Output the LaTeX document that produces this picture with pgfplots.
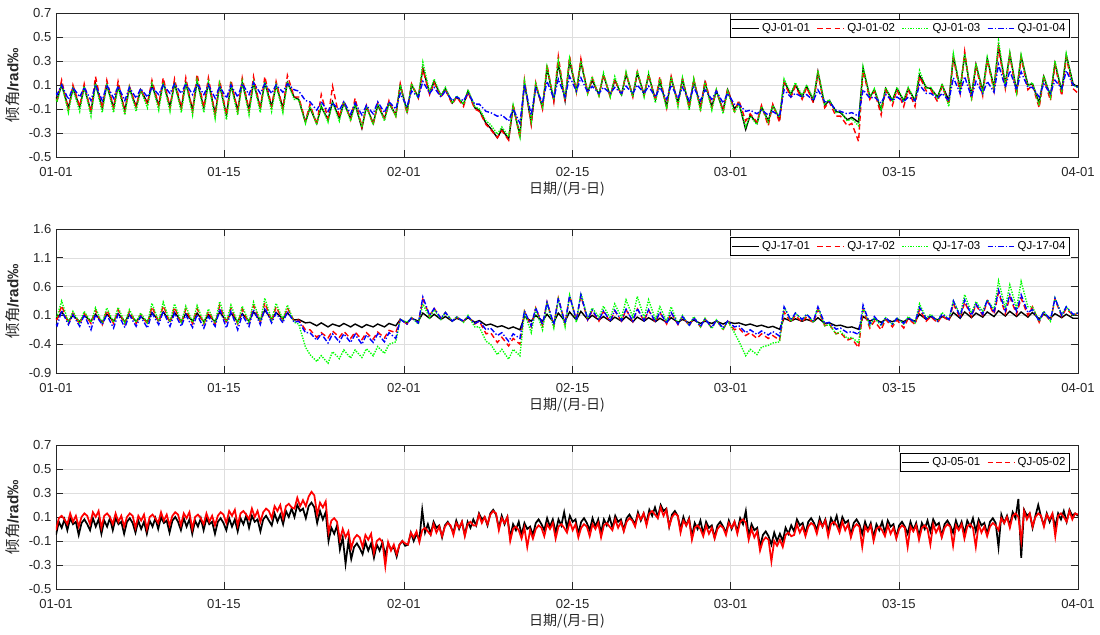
\documentclass[border=0pt]{standalone}
\usepackage{fontspec}
\setmainfont{Liberation Sans}
\newfontfamily\cjk{Noto Sans CJK SC}
\usepackage{pgfplots}
\usepackage{pgfplotstable}
\pgfplotsset{compat=1.18}
\definecolor{axgray}{gray}{0.15}
\definecolor{gridgray}{gray}{0.87}
\definecolor{mgreen}{rgb}{0,1,0}
\pgfplotsset{legend image code/.code={\draw[#1] (0pt,0pt) -- (20pt,0pt);}}
\pgfplotsset{
  myax/.style={
    width=766.5pt, height=108pt, scale only axis,
    axis line style={axgray, line width=0.5pt},
    tick style={axgray, line width=0.5pt},
    major tick length=5pt,
    tick align=inside,
    tick pos=both,
    grid=major,
    major grid style={gridgray, line width=0.4pt},
    tick label style={font=\fontsize{9.8}{11}\selectfont, text=axgray},
    xticklabel style={yshift=-4pt},
    xlabel={\cjk 日期/(月-日)},
    xlabel style={font=\fontsize{10.5}{12}\selectfont, text=axgray, yshift=3pt},
    ylabel={{\cjk 倾角}\textbf{/rad‰}},
    ylabel style={font=\fontsize{11.5}{13}\selectfont, text=axgray},
    legend style={anchor=north east, draw=black, line width=0.5pt, fill=white,
      font=\fontsize{8.6}{10}\selectfont, inner sep=1pt,
      /tikz/every even column/.append style={column sep=3pt}},
    legend cell align=left,
    every axis plot/.append style={line width=1.05pt},
    xticklabels={01-01,01-15,02-01,02-15,03-01,03-15,04-01},
  },
  dayax/.style={xmin=-0.1, xmax=90.44, xtick={-0.1,14.78,30.72,45.67,59.67,74.58,90.44}},
  sA/.style={black},
  sB/.style={red, dash pattern=on 4pt off 2.5pt},
  sC/.style={mgreen, dash pattern=on 1pt off 1pt},
  sD/.style={blue, dash pattern=on 4pt off 1.5pt on 1pt off 1.5pt},
}

\pgfplotstableread{
x a b c d
-0.1 0.00 -0.02 -0.02 0.03
0 -0.02 -0.03 -0.04 0.02
0.4 0.10 0.14 0.11 0.10
1 -0.09 -0.11 -0.13 -0.02
1.4 0.07 0.10 0.07 0.08
2 -0.08 -0.08 -0.12 0.00
2.4 0.08 0.11 0.09 0.08
3 -0.12 -0.13 -0.16 -0.03
3.4 0.11 0.17 0.11 0.10
4 -0.09 -0.10 -0.13 -0.03
4.4 0.10 0.14 0.11 0.10
5 -0.09 -0.09 -0.13 -0.01
5.4 0.09 0.13 0.09 0.09
6 -0.11 -0.12 -0.15 -0.03
6.4 0.07 0.09 0.08 0.08
7 -0.08 -0.08 -0.12 -0.01
7.4 0.06 0.07 0.06 0.07
8 -0.05 -0.06 -0.09 0.00
8.4 0.10 0.14 0.11 0.08
9 -0.07 -0.07 -0.11 0.02
9.4 0.12 0.16 0.12 0.10
10 -0.08 -0.09 -0.12 0.03
10.4 0.11 0.15 0.12 0.11
11 -0.09 -0.09 -0.13 0.03
11.4 0.12 0.16 0.12 0.11
12 -0.11 -0.12 -0.15 0.02
12.4 0.13 0.19 0.14 0.11
13 -0.09 -0.09 -0.13 0.02
13.4 0.12 0.16 0.12 0.10
14 -0.14 -0.15 -0.18 -0.01
14.4 0.10 0.14 0.11 0.09
15 -0.15 -0.15 -0.19 -0.01
15.4 0.10 0.14 0.10 0.10
16 -0.11 -0.12 -0.15 0.00
16.4 0.12 0.16 0.13 0.11
17 -0.11 -0.11 -0.15 0.02
17.4 0.12 0.17 0.12 0.12
18 -0.09 -0.10 -0.13 0.03
18.4 0.12 0.17 0.13 0.11
19 -0.08 -0.08 -0.12 0.03
19.4 0.10 0.13 0.10 0.10
20 -0.09 -0.10 -0.13 0.04
20.4 0.12 0.18 0.13 0.11
21 0.00 0.00 -0.02 0.06
21.4 -0.02 0.00 -0.02 0.05
22 -0.21 -0.20 -0.22 -0.03
22.4 -0.09 -0.06 -0.08 -0.04
23 -0.22 -0.23 -0.23 -0.11
23.4 -0.08 0.02 -0.07 -0.04
24 -0.19 -0.18 -0.21 -0.12
24.4 -0.04 0.09 -0.04 -0.05
25 -0.18 -0.17 -0.20 -0.11
25.4 -0.05 -0.03 -0.04 -0.04
26 -0.18 -0.19 -0.20 -0.14
26.4 -0.06 -0.01 -0.06 -0.05
27 -0.26 -0.25 -0.25 -0.15
27.4 -0.08 -0.07 -0.08 -0.07
28 -0.22 -0.23 -0.23 -0.14
28.4 -0.07 -0.05 -0.06 -0.04
29 -0.18 -0.18 -0.20 -0.13
29.4 -0.05 -0.03 -0.05 -0.04
30 -0.15 -0.16 -0.16 -0.10
30.4 0.10 0.11 0.10 0.03
31 -0.12 -0.14 -0.13 -0.08
31.4 0.10 0.11 0.11 0.05
32 0.00 -0.01 -0.01 0.00
32.4 0.24 0.23 0.29 0.13
33 0.03 0.02 0.04 0.03
33.4 0.13 0.12 0.15 0.08
34 0.01 0.00 0.01 0.00
34.4 0.07 0.06 0.08 0.05
35 -0.05 -0.06 -0.05 -0.03
35.4 0.00 0.00 0.01 0.00
36 -0.06 -0.08 -0.06 -0.03
36.4 0.05 0.04 0.06 0.03
37 -0.09 -0.10 -0.08 -0.06
37.4 -0.11 -0.12 -0.10 -0.06
38 -0.22 -0.23 -0.20 -0.12
38.4 -0.26 -0.27 -0.23 -0.13
39 -0.34 -0.34 -0.31 -0.16
39.4 -0.27 -0.28 -0.25 -0.15
40 -0.35 -0.36 -0.33 -0.20
40.4 -0.08 -0.06 -0.07 -0.10
41 -0.32 -0.34 -0.33 -0.22
41.4 0.12 0.14 0.13 0.10
42 -0.22 -0.23 -0.20 -0.15
42.4 0.10 0.12 0.11 0.07
43 -0.09 -0.10 -0.08 -0.05
43.4 0.24 0.27 0.25 0.13
44 -0.03 -0.04 -0.02 -0.01
44.4 0.28 0.34 0.30 0.15
45 -0.03 -0.04 -0.02 0.00
45.4 0.30 0.34 0.32 0.17
46 0.05 0.04 0.05 0.05
46.4 0.29 0.32 0.30 0.16
47 0.04 0.03 0.03 0.04
47.4 0.14 0.16 0.17 0.09
48 0.02 0.01 0.01 0.03
48.4 0.18 0.19 0.20 0.08
49 0.01 0.00 0.00 0.03
49.4 0.14 0.15 0.17 0.08
50 0.02 0.01 0.01 0.03
50.4 0.19 0.20 0.21 0.09
51 0.01 0.00 0.00 0.03
51.4 0.20 0.21 0.22 0.10
52 0.02 0.01 0.00 0.03
52.4 0.18 0.19 0.20 0.09
53 -0.02 -0.03 -0.05 0.00
53.4 0.13 0.17 0.15 0.08
54 -0.08 -0.09 -0.10 -0.02
54.4 0.16 0.17 0.17 0.10
55 -0.05 -0.06 -0.08 -0.01
55.4 0.15 0.15 0.16 0.08
56 -0.08 -0.09 -0.11 -0.03
56.4 0.14 0.15 0.15 0.08
57 -0.09 -0.10 -0.12 -0.03
57.4 0.12 0.14 0.12 0.06
58 -0.08 -0.09 -0.11 -0.02
58.4 0.05 0.06 0.06 0.05
59 -0.11 -0.12 -0.14 -0.05
59.4 0.06 0.07 0.05 0.03
60 -0.10 -0.12 -0.13 -0.06
60.4 -0.05 -0.03 -0.06 -0.06
61 -0.27 -0.20 -0.25 -0.12
61.4 -0.15 -0.14 -0.16 -0.11
62 -0.22 -0.21 -0.23 -0.14
62.4 -0.08 -0.07 -0.08 -0.11
63 -0.20 -0.24 -0.21 -0.15
63.4 -0.07 -0.06 -0.07 -0.12
64 -0.18 -0.21 -0.17 -0.16
64.4 0.13 0.12 0.15 0.06
65 0.02 0.00 0.03 0.00
65.4 0.10 0.09 0.12 0.03
66 0.00 -0.02 0.01 0.00
66.4 0.09 0.08 0.10 0.02
67 -0.03 -0.05 -0.02 -0.03
67.4 0.21 0.20 0.22 0.06
68 -0.07 -0.09 -0.06 -0.04
68.4 -0.03 -0.04 -0.02 -0.04
69 -0.12 -0.16 -0.13 -0.11
69.4 -0.13 -0.16 -0.12 -0.12
70 -0.19 -0.24 -0.20 -0.14
70.4 -0.17 -0.22 -0.18 -0.13
71 -0.21 -0.37 -0.24 -0.16
71.4 0.24 0.22 0.25 0.06
72 0.00 -0.02 0.00 -0.01
72.4 0.06 0.05 0.07 0.00
73 -0.11 -0.15 -0.10 -0.05
73.4 0.07 0.06 0.08 0.02
74 -0.03 -0.07 -0.03 -0.03
74.4 0.07 0.06 0.08 0.00
75 -0.03 -0.08 -0.03 -0.04
75.4 0.07 0.06 0.08 0.00
76 -0.03 -0.08 -0.03 -0.03
76.4 0.18 0.17 0.22 0.10
77 0.08 0.05 0.07 0.03
77.4 0.07 0.06 0.08 0.03
78 0.00 -0.04 -0.01 -0.01
78.4 0.10 0.09 0.11 0.03
79 -0.03 -0.06 -0.08 -0.03
79.4 0.34 0.33 0.36 0.16
80 0.07 0.03 0.06 0.03
80.4 0.35 0.38 0.36 0.17
81 0.01 -0.03 0.00 0.00
81.4 0.27 0.26 0.28 0.13
82 0.05 0.01 0.04 0.03
82.4 0.32 0.31 0.33 0.13
83 0.08 0.05 0.07 0.04
83.4 0.42 0.41 0.47 0.27
84 0.11 0.07 0.10 0.08
84.4 0.36 0.35 0.37 0.22
85 0.05 0.01 0.04 0.06
85.4 0.34 0.33 0.35 0.21
86 0.10 0.06 0.09 0.08
86.4 0.11 0.10 0.12 0.08
87 -0.05 -0.09 -0.07 0.00
87.4 0.17 0.16 0.18 0.11
88 0.01 -0.03 0.00 0.03
88.4 0.28 0.27 0.30 0.14
89 0.05 0.01 0.04 0.07
89.4 0.35 0.33 0.36 0.22
90 0.11 0.07 0.10 0.10
90.44 0.08 0.03 0.08 0.08
}\tabA

\pgfplotstableread{
x a b c d
-0.1 0.05 0.03 0.08 -0.05
0 0.05 0.03 0.08 -0.08
0.4 0.16 0.27 0.35 0.18
1 0.00 -0.04 -0.02 -0.06
1.4 0.10 0.14 0.17 0.11
2 -0.01 -0.05 -0.03 -0.09
2.4 0.10 0.14 0.17 0.11
3 0.00 -0.04 -0.02 -0.15
3.4 0.12 0.19 0.23 0.11
4 -0.02 -0.06 -0.04 -0.06
4.4 0.12 0.19 0.23 0.11
5 0.00 -0.04 -0.02 -0.12
5.4 0.13 0.20 0.24 0.12
6 -0.01 -0.05 -0.03 -0.11
6.4 0.11 0.17 0.20 0.11
7 0.00 -0.04 -0.02 -0.09
7.4 0.08 0.12 0.14 0.08
8 -0.01 -0.05 -0.03 -0.12
8.4 0.15 0.25 0.31 0.14
9 0.01 -0.02 0.00 -0.06
9.4 0.16 0.27 0.33 0.17
10 0.00 -0.03 -0.01 -0.09
10.4 0.15 0.24 0.30 0.14
11 0.00 -0.04 -0.02 -0.09
11.4 0.13 0.21 0.26 0.11
12 0.00 -0.04 -0.02 -0.11
12.4 0.14 0.22 0.27 0.11
13 -0.01 -0.05 -0.03 -0.12
13.4 0.11 0.17 0.21 0.08
14 -0.01 -0.05 -0.03 -0.09
14.4 0.16 0.27 0.34 0.21
15 0.00 -0.03 -0.01 -0.12
15.4 0.14 0.23 0.28 0.17
16 -0.01 -0.05 -0.03 -0.15
16.4 0.13 0.21 0.26 0.11
17 0.00 -0.04 -0.02 -0.09
17.4 0.16 0.27 0.33 0.20
18 0.01 -0.02 0.00 -0.06
18.4 0.19 0.32 0.40 0.23
19 0.03 0.00 0.02 -0.03
19.4 0.15 0.25 0.31 0.14
20 0.04 0.01 0.03 -0.03
20.4 0.14 0.23 0.28 0.17
21 0.02 0.00 -0.02 -0.02
21.4 0.03 0.02 -0.05 0.00
22 -0.03 -0.15 -0.45 -0.20
22.4 -0.02 -0.15 -0.58 -0.20
23 -0.08 -0.28 -0.70 -0.33
23.4 -0.03 -0.20 -0.60 -0.22
24 -0.10 -0.29 -0.73 -0.38
24.4 -0.05 -0.17 -0.53 -0.22
25 -0.09 -0.28 -0.65 -0.36
25.4 -0.04 -0.18 -0.50 -0.22
26 -0.10 -0.30 -0.64 -0.37
26.4 -0.05 -0.19 -0.50 -0.23
27 -0.11 -0.32 -0.63 -0.40
27.4 -0.06 -0.20 -0.48 -0.24
28 -0.10 -0.31 -0.60 -0.37
28.4 -0.05 -0.19 -0.44 -0.22
29 -0.10 -0.29 -0.56 -0.36
29.4 -0.04 -0.16 -0.40 -0.20
30 -0.08 -0.20 -0.36 -0.30
30.4 0.03 0.03 0.03 0.03
31 -0.03 -0.05 -0.02 -0.05
31.4 0.05 0.06 0.06 0.06
32 0.00 -0.03 -0.05 -0.03
32.4 0.14 0.38 0.30 0.42
33 0.05 0.10 0.06 0.10
33.4 0.12 0.22 0.20 0.22
34 0.03 0.05 0.03 0.05
34.4 0.08 0.15 0.15 0.15
35 0.00 0.00 0.00 0.00
35.4 0.05 0.07 0.08 0.07
36 0.00 0.00 -0.02 0.00
36.4 0.06 0.08 0.10 0.08
37 -0.02 -0.05 -0.10 -0.04
37.4 0.01 0.00 -0.10 0.00
38 -0.07 -0.22 -0.35 -0.15
38.4 -0.05 -0.20 -0.40 -0.12
39 -0.10 -0.37 -0.58 -0.25
39.4 -0.08 -0.28 -0.49 -0.20
40 -0.13 -0.43 -0.66 -0.35
40.4 -0.10 -0.30 -0.49 -0.22
41 -0.15 -0.40 -0.60 -0.30
41.4 0.08 0.17 0.15 0.18
42 0.00 -0.10 -0.20 -0.08
42.4 0.10 0.23 0.20 0.23
43 0.00 -0.08 -0.15 -0.06
43.4 0.12 0.33 0.30 0.33
44 -0.02 -0.08 -0.12 -0.06
44.4 0.14 0.40 0.38 0.40
45 0.00 -0.05 -0.10 -0.04
45.4 0.16 0.44 0.45 0.44
46 0.02 0.02 -0.02 0.02
46.4 0.17 0.44 0.49 0.46
47 0.03 0.02 0.05 0.03
47.4 0.10 0.18 0.23 0.19
48 0.02 0.00 0.07 0.02
48.4 0.08 0.17 0.26 0.18
49 0.00 -0.01 0.05 0.00
49.4 0.07 0.18 0.30 0.19
50 0.00 0.00 0.06 0.01
50.4 0.08 0.20 0.37 0.21
51 -0.01 -0.01 0.07 0.00
51.4 0.07 0.21 0.43 0.22
52 0.00 0.00 0.06 0.01
52.4 0.06 0.19 0.37 0.20
53 -0.01 -0.02 0.03 -0.01
53.4 0.05 0.15 0.25 0.16
54 -0.02 -0.05 0.00 -0.04
54.4 0.06 0.15 0.25 0.15
55 -0.02 -0.06 -0.05 -0.05
55.4 0.03 0.08 0.10 0.08
56 -0.03 -0.08 -0.08 -0.07
56.4 0.02 0.06 0.08 0.06
57 -0.04 -0.10 -0.10 -0.09
57.4 0.00 0.04 0.05 0.04
58 -0.04 -0.12 -0.13 -0.11
58.4 0.00 0.02 0.02 0.02
59 -0.05 -0.14 -0.15 -0.12
59.4 -0.01 0.00 0.00 0.00
60 -0.04 -0.15 -0.20 -0.10
60.4 -0.03 -0.12 -0.35 -0.08
61 -0.07 -0.25 -0.60 -0.20
61.4 -0.05 -0.20 -0.49 -0.15
62 -0.09 -0.30 -0.58 -0.23
62.4 -0.07 -0.22 -0.45 -0.17
63 -0.11 -0.30 -0.42 -0.24
63.4 -0.09 -0.25 -0.38 -0.18
64 -0.14 -0.33 -0.36 -0.26
64.4 0.05 0.16 0.25 0.25
65 0.00 -0.02 0.00 0.02
65.4 0.04 0.10 0.14 0.14
66 0.00 -0.02 0.02 0.03
66.4 0.03 0.08 0.12 0.12
67 -0.01 -0.03 -0.02 0.00
67.4 0.06 0.20 0.25 0.25
68 -0.04 -0.08 -0.08 -0.04
68.4 -0.03 -0.05 -0.06 -0.02
69 -0.08 -0.22 -0.22 -0.14
69.4 -0.07 -0.20 -0.18 -0.12
70 -0.11 -0.33 -0.30 -0.20
70.4 -0.10 -0.30 -0.28 -0.18
71 -0.14 -0.46 -0.38 -0.23
71.4 0.08 0.20 0.25 0.28
72 0.00 -0.12 -0.08 -0.05
72.4 0.04 0.00 0.06 0.08
73 -0.02 -0.15 -0.08 -0.06
73.4 0.03 0.03 0.06 0.06
74 -0.01 -0.10 -0.06 -0.05
74.4 0.03 0.02 0.06 0.05
75 -0.01 -0.12 -0.05 -0.04
75.4 0.04 0.05 0.08 0.06
76 0.00 -0.06 -0.03 -0.02
76.4 0.12 0.20 0.30 0.24
77 0.03 0.00 0.05 0.04
77.4 0.08 0.08 0.12 0.10
78 0.02 -0.03 0.00 0.00
78.4 0.08 0.10 0.15 0.12
79 0.03 0.00 0.02 0.03
79.4 0.15 0.30 0.35 0.35
80 0.05 0.05 0.11 0.08
80.4 0.16 0.33 0.46 0.37
81 0.06 0.08 0.14 0.10
81.4 0.14 0.28 0.34 0.30
82 0.07 0.10 0.17 0.12
82.4 0.16 0.35 0.37 0.37
83 0.08 0.12 0.20 0.15
83.4 0.18 0.50 0.70 0.54
84 0.09 0.13 0.23 0.18
84.4 0.17 0.42 0.63 0.46
85 0.08 0.12 0.23 0.17
85.4 0.16 0.40 0.69 0.46
86 0.07 0.10 0.25 0.15
86.4 0.15 0.25 0.25 0.20
87 0.04 -0.02 0.00 0.00
87.4 0.12 0.15 0.17 0.17
88 0.05 0.00 0.00 0.02
88.4 0.13 0.38 0.40 0.40
89 0.06 0.08 0.11 0.10
89.4 0.12 0.22 0.25 0.25
90 0.05 0.10 0.10 0.12
90.44 0.05 0.14 0.15 0.14
}\tabB

\pgfplotstableread{
x a b
0 -0.05 -0.01
0.25 0.06 0.09
0.5 0.01 0.11
0.75 0.08 0.08
1 -0.01 0.04
1.25 0.09 0.13
1.5 0.04 0.06
1.75 0.06 0.11
2 -0.05 0.02
2.25 0.05 0.10
2.5 0.08 0.13
2.75 0.04 0.11
3 -0.01 0.04
3.25 0.09 0.14
3.5 0.02 0.10
3.75 0.08 0.15
4 -0.04 0.01
4.25 0.07 0.11
4.5 0.02 0.13
4.75 0.09 0.10
5 -0.01 0.04
5.25 0.09 0.13
5.5 0.04 0.06
5.75 0.06 0.11
6 -0.04 0.02
6.25 0.06 0.10
6.5 0.09 0.13
6.75 0.05 0.11
7 -0.03 0.01
7.25 0.07 0.11
7.5 0.00 0.07
7.75 0.06 0.12
8 -0.04 0.00
8.25 0.07 0.10
8.5 0.02 0.12
8.75 0.09 0.09
9 0.00 0.05
9.25 0.10 0.14
9.5 0.05 0.07
9.75 0.07 0.12
10 -0.03 0.03
10.25 0.07 0.11
10.5 0.10 0.14
10.75 0.06 0.12
11 -0.01 0.03
11.25 0.09 0.13
11.5 0.02 0.09
11.75 0.08 0.14
12 -0.04 0.00
12.25 0.07 0.10
12.5 0.02 0.12
12.75 0.09 0.09
13 -0.01 0.04
13.25 0.09 0.13
13.5 0.04 0.06
13.75 0.06 0.11
14 -0.04 0.03
14.25 0.06 0.11
14.5 0.09 0.14
14.75 0.05 0.12
15 -0.01 0.05
15.25 0.09 0.15
15.5 0.02 0.11
15.75 0.08 0.16
16 -0.02 0.03
16.25 0.09 0.13
16.5 0.04 0.15
16.75 0.11 0.12
17 0.01 0.08
17.25 0.11 0.17
17.5 0.06 0.10
17.75 0.08 0.15
18 -0.02 0.06
18.25 0.08 0.14
18.5 0.11 0.17
18.75 0.07 0.15
19 0.03 0.09
19.25 0.13 0.19
19.5 0.06 0.15
19.75 0.12 0.20
20 0.04 0.09
20.25 0.15 0.19
20.5 0.10 0.21
20.75 0.17 0.18
21 0.10 0.17
21.25 0.20 0.26
21.5 0.15 0.19
21.75 0.17 0.24
22 0.09 0.19
22.25 0.19 0.27
22.5 0.22 0.31
22.75 0.18 0.28
23 0.05 0.12
23.25 0.15 0.22
23.5 0.08 0.18
23.75 0.14 0.23
24 -0.10 -0.03
24.25 0.01 0.07
24.5 -0.04 0.09
24.75 0.03 0.06
25 -0.17 -0.09
25.25 -0.07 0.00
25.5 -0.29 -0.07
25.75 -0.10 -0.02
26 -0.25 -0.16
26.25 -0.15 -0.08
26.5 -0.12 -0.05
26.75 -0.16 -0.07
27 -0.21 -0.15
27.25 -0.11 -0.05
27.5 -0.18 -0.09
27.75 -0.12 -0.04
28 -0.24 -0.20
28.25 -0.13 -0.10
28.5 -0.18 -0.08
28.75 -0.11 -0.11
29 -0.22 -0.31
29.25 -0.12 -0.11
29.5 -0.17 -0.18
29.75 -0.15 -0.13
30 -0.23 -0.21
30.25 -0.13 -0.13
30.5 -0.10 -0.10
30.75 -0.14 -0.12
31 -0.13 -0.13
31.25 -0.03 -0.03
31.5 -0.10 -0.07
31.75 -0.04 -0.02
32 -0.09 -0.11
32.25 0.16 -0.01
32.5 -0.03 0.01
32.75 0.04 -0.02
33 -0.04 -0.05
33.25 0.06 0.04
33.5 0.01 -0.03
33.75 0.03 0.02
34 -0.07 -0.06
34.25 0.03 0.02
34.5 0.06 0.05
34.75 0.02 0.03
35 -0.03 -0.05
35.25 0.07 0.05
35.5 0.00 0.01
35.75 0.06 0.06
36 -0.05 -0.06
36.25 0.06 0.04
36.5 0.01 0.06
36.75 0.08 0.03
37 0.03 0.03
37.25 0.13 0.12
37.5 0.08 0.05
37.75 0.10 0.10
38 0.03 0.04
38.25 0.13 0.12
38.5 0.16 0.15
38.75 0.12 0.13
39 0.01 -0.01
39.25 0.11 0.09
39.5 0.04 0.05
39.75 0.10 0.10
40 -0.07 -0.10
40.25 0.04 0.00
40.5 -0.01 0.02
40.75 0.06 -0.01
41 -0.05 -0.08
41.25 0.05 0.01
41.5 0.00 -0.15
41.75 0.02 -0.01
42 -0.05 -0.08
42.25 0.05 0.00
42.5 0.08 0.03
42.75 0.04 0.01
43 -0.01 -0.06
43.25 0.09 0.04
43.5 0.02 0.00
43.75 0.08 0.05
44 -0.03 -0.08
44.25 0.08 0.02
44.5 0.03 0.04
44.75 0.14 0.01
45 0.01 -0.03
45.25 0.11 0.06
45.5 0.06 -0.01
45.75 0.08 0.04
46 -0.04 -0.07
46.25 0.06 0.01
46.5 0.09 0.04
46.75 0.05 0.02
47 -0.01 -0.06
47.25 0.09 0.04
47.5 0.02 0.00
47.75 0.08 0.05
48 -0.03 -0.07
48.25 0.08 0.03
48.5 0.03 0.05
48.75 0.10 0.02
49 0.01 -0.01
49.25 0.11 0.08
49.5 0.06 0.01
49.75 0.08 0.06
50 -0.01 -0.02
50.25 0.09 0.06
50.5 0.12 0.09
50.75 0.08 0.07
51 0.04 0.02
51.25 0.14 0.12
51.5 0.07 0.08
51.75 0.13 0.13
52 0.05 0.03
52.25 0.16 0.13
52.5 0.11 0.15
52.75 0.18 0.12
53 0.10 0.09
53.25 0.20 0.18
53.5 0.15 0.11
53.75 0.17 0.16
54 0.02 0.02
54.25 0.12 0.10
54.5 0.15 0.13
54.75 0.11 0.11
55 0.00 -0.03
55.25 0.10 0.07
55.5 0.03 0.03
55.75 0.09 0.08
56 -0.06 -0.09
56.25 0.05 0.01
56.5 0.00 0.03
56.75 0.07 0.00
57 -0.04 -0.06
57.25 0.06 0.03
57.5 0.01 -0.04
57.75 0.03 0.01
58 -0.07 -0.08
58.25 0.03 0.00
58.5 0.06 0.03
58.75 0.02 0.01
59 -0.03 -0.05
59.25 0.07 0.05
59.5 0.00 0.01
59.75 0.06 0.06
60 -0.02 -0.04
60.25 0.09 0.06
60.5 0.04 0.08
60.75 0.15 0.05
61 -0.06 -0.09
61.25 0.04 0.00
61.5 -0.01 -0.07
61.75 0.01 -0.02
62 -0.15 -0.18
62.25 -0.05 -0.10
62.5 -0.02 -0.07
62.75 -0.06 -0.09
63 -0.13 -0.27
63.25 -0.03 -0.10
63.5 -0.10 -0.14
63.75 -0.04 -0.09
64 -0.10 -0.15
64.25 0.01 -0.05
64.5 -0.04 -0.03
64.75 0.03 -0.06
65 -0.02 -0.05
65.25 0.08 0.04
65.5 0.03 -0.03
65.75 0.05 0.02
66 -0.04 -0.06
66.25 0.06 0.02
66.5 0.09 0.05
66.75 0.05 0.03
67 -0.01 -0.04
67.25 0.09 0.06
67.5 0.02 0.02
67.75 0.08 0.07
68 -0.02 -0.06
68.25 0.09 0.04
68.5 0.04 0.06
68.75 0.11 0.03
69 0.00 -0.03
69.25 0.10 0.06
69.5 0.05 -0.01
69.75 0.07 0.04
70 -0.05 -0.07
70.25 0.05 0.01
70.5 0.08 0.04
70.75 0.04 0.02
71 -0.04 -0.15
71.25 0.06 0.02
71.5 -0.01 -0.02
71.75 0.05 0.03
72 -0.07 -0.10
72.25 0.04 0.00
72.5 -0.01 0.02
72.75 0.06 -0.01
73 -0.03 -0.06
73.25 0.07 0.03
73.5 0.02 -0.04
73.75 0.04 0.01
74 -0.07 -0.08
74.25 0.03 0.00
74.5 0.06 0.03
74.75 0.02 0.01
75 -0.04 -0.15
75.25 0.06 0.02
75.5 -0.01 -0.02
75.75 0.05 0.03
76 -0.06 -0.09
76.25 0.05 0.01
76.5 0.00 0.03
76.75 0.07 0.00
77 -0.02 -0.13
77.25 0.08 0.04
77.5 0.03 -0.03
77.75 0.05 0.02
78 -0.06 -0.07
78.25 0.04 0.01
78.5 0.07 0.04
78.75 0.03 0.02
79 -0.03 -0.14
79.25 0.07 0.03
79.5 0.00 -0.01
79.75 0.06 0.04
80 -0.04 -0.08
80.25 0.07 0.02
80.5 0.02 0.04
80.75 0.09 0.01
81 -0.02 -0.15
81.25 0.08 0.04
81.5 0.03 -0.03
81.75 0.05 0.02
82 -0.04 -0.06
82.25 0.06 0.02
82.5 0.09 0.05
82.75 0.05 0.03
83 -0.15 -0.01
83.25 0.12 0.09
83.5 0.05 0.05
83.75 0.11 0.10
84 0.03 0.01
84.25 0.14 0.11
84.5 0.09 0.13
84.75 0.25 0.10
85 -0.24 -0.10
85.25 0.16 0.15
85.5 0.11 0.08
85.75 0.13 0.13
86 0.01 0.02
86.25 0.11 0.10
86.5 0.20 0.13
86.75 0.10 0.11
87 0.03 0.02
87.25 0.13 0.12
87.5 0.06 0.08
87.75 0.12 0.13
88 0.02 -0.06
88.25 0.13 0.11
88.5 0.08 0.13
88.75 0.15 0.10
89 0.06 0.06
89.25 0.16 0.15
89.5 0.11 0.08
89.75 0.13 0.13
90 0.11 0.12
}\tabC

\begin{document}
\begin{tikzpicture}
\useasboundingbox (0,0) rectangle (825pt,476.25pt);

\begin{axis}[myax, dayax, at={(42pt,358.5pt)}, anchor=south west,
  ymin=-0.5, ymax=0.7, ytick={-0.5,-0.3,-0.1,0.1,0.3,0.5,0.7},
  yticklabels={-0.5,-0.3,-0.1,0.1,0.3,0.5,0.7},
  legend columns=4, legend style={at={(0.992,0.958)}}]
\addplot[sA] table[x=x,y=a]{\tabA};
\addplot[sB] table[x=x,y=b]{\tabA};
\addplot[sC] table[x=x,y=c]{\tabA};
\addplot[sD] table[x=x,y=d]{\tabA};
\legend{QJ-01-01,QJ-01-02,QJ-01-03,QJ-01-04}
\end{axis}

\begin{axis}[myax, dayax, at={(42pt,196.5pt)}, anchor=south west,
  ymin=-0.9, ymax=1.6, ytick={-0.9,-0.4,0.1,0.6,1.1,1.6},
  yticklabels={-0.9,-0.4,0.1,0.6,1.1,1.6},
  legend columns=4, legend style={at={(0.992,0.945)}}]
\addplot[sA] table[x=x,y=a]{\tabB};
\addplot[sB] table[x=x,y=b]{\tabB};
\addplot[sC] table[x=x,y=c]{\tabB};
\addplot[sD] table[x=x,y=d]{\tabB};
\legend{QJ-17-01,QJ-17-02,QJ-17-03,QJ-17-04}
\end{axis}

\begin{axis}[myax, at={(42pt,34.5pt)}, anchor=south west,
  xmin=0, xmax=90, xtick={0,14.79,30.64,45.5,59.41,74.23,90},
  ymin=-0.5, ymax=0.7, ytick={-0.5,-0.3,-0.1,0.1,0.3,0.5,0.7},
  yticklabels={-0.5,-0.3,-0.1,0.1,0.3,0.5,0.7},
  legend columns=2, legend style={at={(0.992,0.945)}}]
\addplot[black, line width=1.3pt, forget plot] table[x=x,y=a]{\tabC};
\addplot[red, line width=1.3pt, forget plot] table[x=x,y=b]{\tabC};
\addlegendimage{sA, line width=1.05pt}
\addlegendimage{sB, line width=1.05pt}
\legend{QJ-05-01,QJ-05-02}
\end{axis}
\end{tikzpicture}
\end{document}
